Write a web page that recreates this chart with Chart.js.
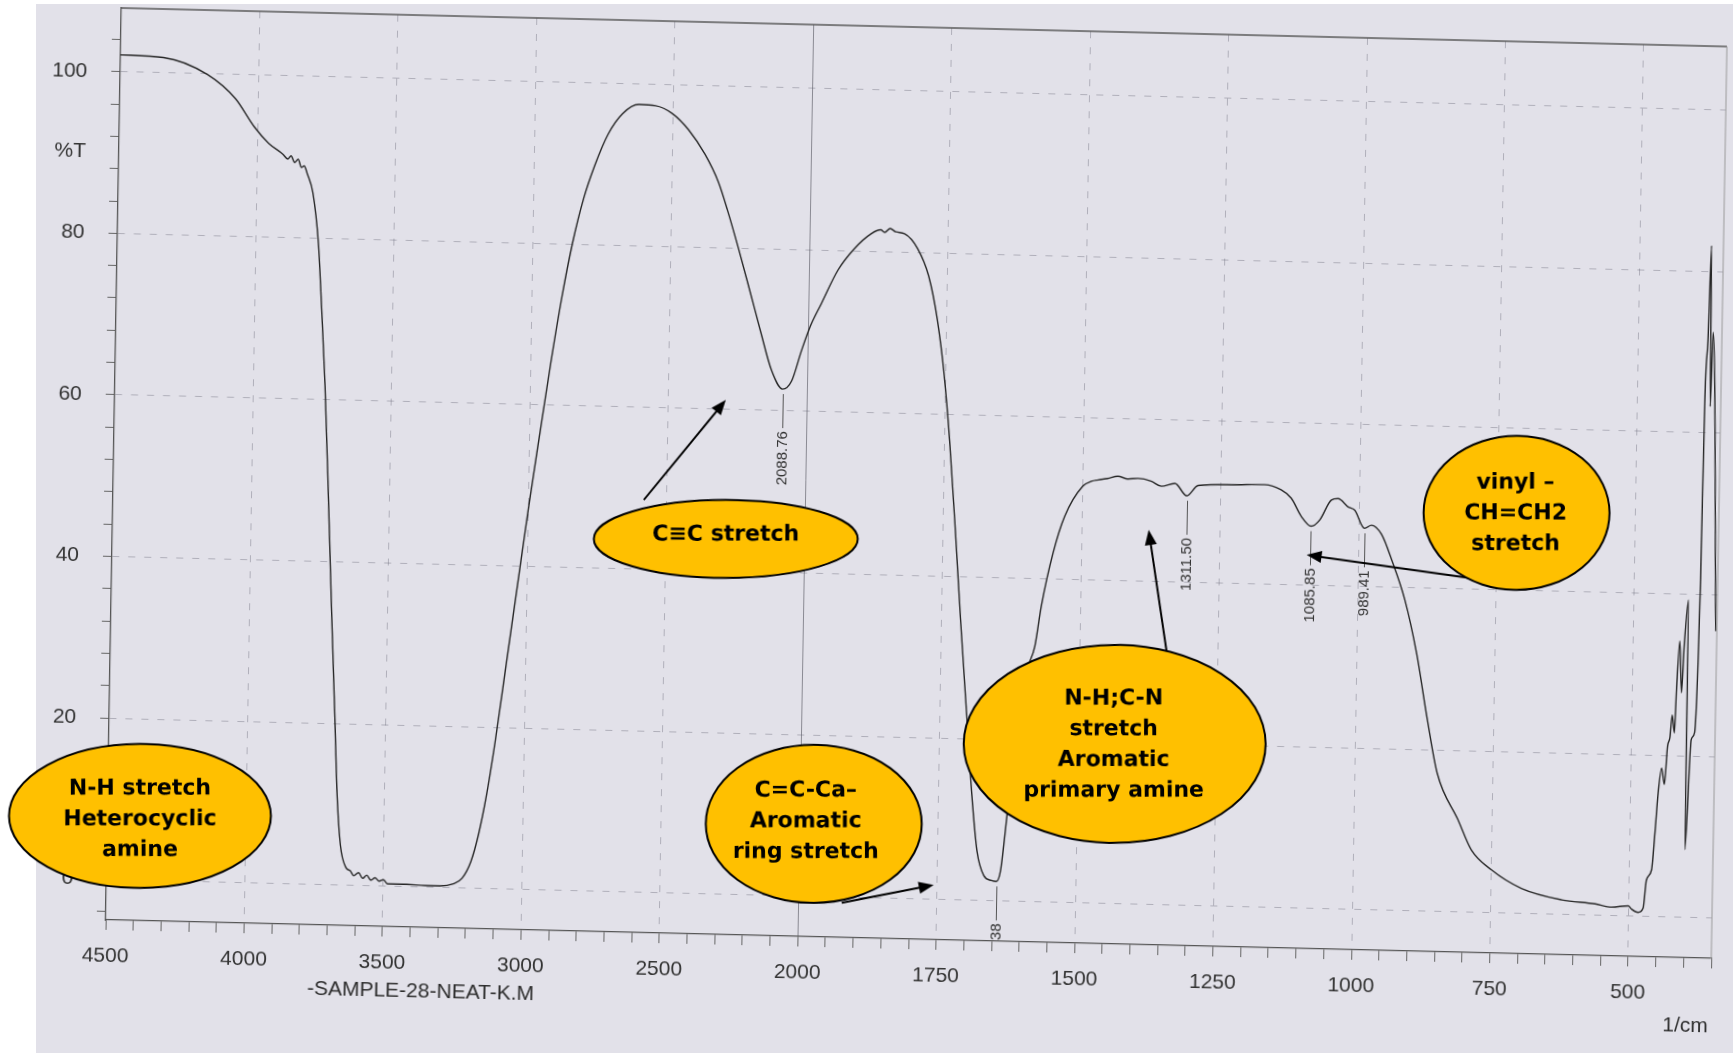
<!DOCTYPE html>
<html>
<head>
<meta charset="utf-8">
<title>IR spectrum - SAMPLE-28-NEAT-K.M</title>
<script src="https://cdn.jsdelivr.net/npm/chart.js@4.4.1/dist/chart.umd.min.js"></script>
<style>
    html, body { margin: 0; padding: 0; background: #fff; overflow: hidden; }
    #wrap { position: relative; width: 1733px; height: 1053px; overflow: hidden; background: #fff; }
    #paper { position: absolute; left: 36px; top: 4px; right: 0; bottom: 0; background: #e2e1e9; }
    /* the scanned sheet sits slightly skewed on the scanner */
    #irChart {
        position: absolute; left: 0; top: 0; display: block;
        transform-origin: 63px 961.5px;
        transform: matrix(1, 0.024, -0.0172, 1, 0, 0);
    }
</style>
</head>
<body>
<div id="wrap">
    <div id="paper"></div>
    <canvas id="irChart" width="1733" height="1053"></canvas>
</div>
<script>
// Spectrum (wavenumber in 1/cm, transmittance in %T)
const wavenumbers = [
    4500, 4345, 4184, 4082, 4013, 3960, 3908, 3890, 3878, 3865, 3852, 3840, 3830, 3818, 3797, 3774,
    3758, 3741, 3722, 3704, 3685, 3672, 3657, 3636, 3620, 3607, 3590, 3575, 3560, 3545, 3530, 3515,
    3500, 3485, 3455, 3415, 3350, 3295, 3247, 3216, 3185, 3159, 3133, 3104, 3069, 3034, 2999, 2964,
    2928, 2892, 2856, 2819, 2781, 2735, 2684, 2625, 2565, 2505, 2444, 2383, 2333, 2299, 2257, 2215,
    2172, 2130, 2088.76, 2057, 2023, 1996, 1977, 1948, 1919, 1889, 1872, 1865, 1855, 1845, 1829, 1805,
    1784, 1767, 1753, 1741, 1728, 1716, 1703, 1690, 1679, 1666, 1652, 1643, 1636, 1629, 1621, 1610,
    1596, 1581, 1570.5, 1551, 1531, 1499, 1484, 1472, 1455, 1436, 1418, 1400, 1376, 1357.5, 1333, 1311.5,
    1291, 1231, 1171, 1141, 1122.5, 1104, 1085.85, 1070.5, 1050, 1038, 1019.5, 1007.5, 989.41, 977, 958.5, 939.5,
    914.5, 891.5, 870.5, 850.5, 811.5, 786.5, 749.5, 695, 622, 561.5, 531.5, 501.5, 495.5, 483.5, 474.5, 469.5,
    460.5, 455.5, 451, 445.5, 440, 435.5, 431.5, 428, 423.5, 421, 416.5, 412, 408.5, 402, 401, 393,
    387, 383, 381, 379, 375, 371.5, 369, 366, 352
];
const transmittance = [
    102.1, 101.9, 99.9, 97.0, 93.6, 91.6, 90.3, 89.7, 90.1, 89.3, 89.7, 88.7, 88.9, 87.9, 85.6, 79.4,
    71.2, 61.7, 48.0, 34.3, 20.7, 11.1, 4.9, 2.2, 1.8, 1.2, 1.6, 0.9, 1.3, 0.7, 1.0, 0.6,
    0.8, 0.3, 0.3, 0.3, 0.2, 0.2, 0.5, 1.2, 3.3, 6.7, 11.5, 18.4, 28.0, 37.6, 47.2, 56.1,
    65.1, 73.3, 80.2, 85.7, 89.8, 93.7, 96.3, 97.5, 97.4, 96.5, 94.5, 91.5, 88.1, 84.7, 80.0, 75.0,
    69.8, 65.0, 62.7, 63.7, 67.5, 70.6, 73.4, 77.6, 80.3, 82.2, 82.7, 82.4, 82.9, 82.5, 82.3, 80.5,
    77.1, 71.7, 64.9, 56.7, 45.7, 34.8, 23.9, 13.0, 6.1, 3.1, 2.5, 2.4, 3.7, 8.3, 14.4, 21.3,
    28.2, 31.6, 36.6, 43.2, 47.8, 51.6, 52.2, 52.4, 52.6, 52.9, 52.6, 52.7, 52.4, 51.8, 52.2, 50.7,
    52.0, 52.2, 52.3, 51.7, 50.7, 48.5, 47.3, 48.1, 50.6, 50.8, 49.8, 49.4, 47.2, 47.6, 46.5, 43.4,
    38.5, 31.9, 23.9, 17.1, 11.4, 7.7, 5.3, 3.1, 1.8, 1.4, 1.05, 1.26, 0.86, 0.48, 1.03, 4.5,
    5.8, 10.4, 15.3, 18.4, 16.4, 21.1, 22.2, 25.0, 22.8, 28.2, 34.2, 27.8, 33.6, 39.3, 8.4, 22.0,
    22.9, 31.5, 41.9, 63.3, 71.6, 83.2, 63.3, 72.5, 35.5
];

// Peaks printed by the instrument
const peakWavenumbers = [2088.76, 1643, 1311.50, 1085.85, 989.41];
const peakTransmittance = [62.7, 2.4, 50.7, 47.3, 47.2];
const peakLabels = ['2088.76', '38', '1311.50', '1085.85', '989.41'];

// Axis ticks
const xTickWavenumbers = [4500, 4000, 3500, 3000, 2500, 2000, 1750, 1500, 1250, 1000, 750, 500];
const yTickValues = [0, 20, 40, 60, 80, 100];

// The paper switches to a 2x expanded scale below 2000 1/cm,
// so the chart works on a linear "paper unit" axis
function uFromWn(w) {
    return w >= 2000 ? 4500 - w : 2500 + (2000 - w) * 2;
}
function wnFromU(u) {
    return u <= 2500 ? 4500 - u : 2000 - (u - 2500) / 2;
}

const GRID = 'rgba(95, 95, 110, 0.38)';
const INK = '#262626';
const LABEL_FONT = '"Liberation Sans", Arial, sans-serif';

// Skew of the scanned sheet (same numbers as the CSS transform)
const SKEW = { ox: 63, oy: 961.5, b: 0.024, c: -0.0172 };

// Yellow callouts pasted on top of the scan (page coordinates)
const callouts = [
    { cx: 140, cy: 816, rx: 131, ry: 72, tx: 140, ty: 789, lines: ['N-H stretch', 'Heterocyclic', 'amine'] },
    { cx: 726, cy: 539, rx: 132, ry: 39, tx: 726, ty: 535, lines: ['C\u2261C stretch'] },
    { cx: 814, cy: 824, rx: 108, ry: 79, tx: 806, ty: 791, lines: ['C=C-Ca\u2013', 'Aromatic', 'ring stretch'] },
    { cx: 1115, cy: 744, rx: 151, ry: 99, tx: 1114, ty: 699, lines: ['N-H;C-N', 'stretch', 'Aromatic', 'primary amine'] },
    { cx: 1517, cy: 513, rx: 93, ry: 77, tx: 1516, ty: 483, lines: ['vinyl \u2013', 'CH=CH2', 'stretch'] }
];
const arrows = [
    { from: [644, 500], to: [726, 400] },
    { from: [842, 903], to: [934, 885] },
    { from: [1167, 652], to: [1149, 530] },
    { from: [1470, 578], to: [1307, 555] }
];

document.addEventListener('DOMContentLoaded', function() {
    initSpectrumChart();
});

// Top and right edges of the printed frame
const framePlugin = {
    id: 'frame',
    afterDraw(chart) {
        const { ctx, chartArea: a } = chart;
        ctx.save();
        ctx.strokeStyle = '#5a5a5a';
        ctx.lineWidth = 1.5;
        ctx.beginPath();
        ctx.moveTo(a.left, a.top);
        ctx.lineTo(a.right, a.top);
        ctx.stroke();
        ctx.strokeStyle = '#9a9a9a';
        ctx.lineWidth = 1;
        ctx.beginPath();
        ctx.moveTo(a.right, a.top);
        ctx.lineTo(a.right, a.bottom);
        ctx.stroke();
        ctx.restore();
    }
};

// Peak marker lines with the vertical wavenumber labels
const peakPlugin = {
    id: 'peaks',
    afterDatasetsDraw(chart) {
        const ctx = chart.ctx;
        const xs = chart.scales.x;
        const ys = chart.scales.y;
        ctx.save();
        ctx.strokeStyle = '#555';
        ctx.lineWidth = 1;
        ctx.fillStyle = '#333';
        ctx.font = '15px ' + LABEL_FONT;
        ctx.textAlign = 'right';
        ctx.textBaseline = 'middle';
        peakWavenumbers.forEach((w, i) => {
            const x = Math.round(xs.getPixelForValue(uFromWn(w))) + 0.5;
            const y = ys.getPixelForValue(peakTransmittance[i]);
            ctx.beginPath();
            ctx.moveTo(x, y + 5);
            ctx.lineTo(x, y + 39);
            ctx.stroke();
            ctx.save();
            ctx.translate(x, y + 42);
            ctx.rotate(-Math.PI / 2);
            ctx.fillText(peakLabels[i], 0, 0);
            ctx.restore();
        });
        ctx.restore();
    }
};

// Printed sample name and unit, then the hand-added arrows and callouts
const notesPlugin = {
    id: 'notes',
    afterDraw(chart) {
        const ctx = chart.ctx;
        ctx.save();
        ctx.fillStyle = '#2e2e2e';
        ctx.font = '21px ' + LABEL_FONT;
        ctx.textAlign = 'center';
        ctx.textBaseline = 'middle';
        ctx.fillText('-SAMPLE-28-NEAT-K.M', 421, 983);
        ctx.fillText('1/cm', 1686, 987);

        // undo the sheet skew so the callouts sit upright on the page
        const det = 1 - SKEW.b * SKEW.c;
        ctx.translate(SKEW.ox, SKEW.oy);
        ctx.transform(1 / det, -SKEW.b / det, -SKEW.c / det, 1 / det, 0, 0);
        ctx.translate(-SKEW.ox, -SKEW.oy);

        // arrows first, the ellipses cover their tails
        ctx.strokeStyle = '#000';
        ctx.fillStyle = '#000';
        ctx.lineWidth = 2;
        arrows.forEach(a => {
            const [x1, y1] = a.from;
            const [x2, y2] = a.to;
            const ang = Math.atan2(y2 - y1, x2 - x1);
            const head = 15;
            ctx.beginPath();
            ctx.moveTo(x1, y1);
            ctx.lineTo(x2 - Math.cos(ang) * head * 0.8, y2 - Math.sin(ang) * head * 0.8);
            ctx.stroke();
            ctx.beginPath();
            ctx.moveTo(x2, y2);
            ctx.lineTo(x2 - head * Math.cos(ang) + 6 * Math.sin(ang), y2 - head * Math.sin(ang) - 6 * Math.cos(ang));
            ctx.lineTo(x2 - head * Math.cos(ang) - 6 * Math.sin(ang), y2 - head * Math.sin(ang) + 6 * Math.cos(ang));
            ctx.closePath();
            ctx.fill();
        });

        callouts.forEach(c => {
            ctx.beginPath();
            ctx.ellipse(c.cx, c.cy, c.rx, c.ry, 0, 0, Math.PI * 2);
            ctx.fillStyle = '#ffc000';
            ctx.fill();
            ctx.lineWidth = 2;
            ctx.strokeStyle = '#000';
            ctx.stroke();
            ctx.fillStyle = '#000';
            ctx.font = 'bold 22px "DejaVu Sans", sans-serif';
            c.lines.forEach((line, i) => {
                ctx.fillText(line, c.tx, c.ty + i * 30.7);
            });
        });
        ctx.restore();
    }
};

function initSpectrumChart() {
    const ctx = document.getElementById('irChart').getContext('2d');

    const points = wavenumbers.map((w, i) => ({ x: uFromWn(w), y: transmittance[i] }));

    new Chart(ctx, {
        type: 'line',
        data: {
            datasets: [{
                label: 'SAMPLE-28-NEAT-K.M',
                data: points,
                borderColor: INK,
                borderWidth: 1.4,
                pointRadius: 0,
                cubicInterpolationMode: 'monotone',
                fill: false
            }]
        },
        options: {
            responsive: false,
            animation: false,
            layout: {
                padding: { left: 0, right: 22, top: 7, bottom: 0 }
            },
            plugins: {
                legend: { display: false },
                tooltip: { enabled: false }
            },
            scales: {
                x: {
                    type: 'linear',
                    min: 0,
                    max: 5800,
                    afterFit: scale => {
                        scale.height = 134;
                        scale.paddingLeft = 0;
                        scale.paddingRight = 0;
                    },
                    border: {
                        display: true,
                        color: '#555',
                        width: 1.3,
                        dash: c => (c.tick && c.tick.value === 2500) ? [] : [7, 9]
                    },
                    grid: {
                        color: c => {
                            const v = c.tick ? c.tick.value : -1;
                            if (v === 2500) return 'rgba(80, 80, 90, 0.6)';
                            if (v > 0 && v <= 5500 && v % 500 === 0) return GRID;
                            return 'transparent';
                        },
                        lineWidth: 1,
                        tickColor: '#666',
                        tickLength: 10
                    },
                    ticks: {
                        stepSize: 100,
                        autoSkip: false,
                        maxRotation: 0,
                        minRotation: 0,
                        padding: 14,
                        color: '#333',
                        font: { family: LABEL_FONT, size: 21 },
                        callback: value => {
                            const w = wnFromU(value);
                            return xTickWavenumbers.includes(w) ? String(w) : '';
                        }
                    }
                },
                y: {
                    min: -5.0,
                    max: 107.9,
                    afterFit: scale => {
                        scale.width = 105;
                        scale.paddingTop = 0;
                        scale.paddingBottom = 0;
                    },
                    border: {
                        display: true,
                        color: '#555',
                        width: 1.3,
                        dash: [7, 9]
                    },
                    grid: {
                        color: c => (c.tick && yTickValues.includes(c.tick.value)) ? GRID : 'transparent',
                        lineWidth: 1,
                        tickColor: c => (c.tick && c.tick.value % 4 === 0) ? '#666' : 'transparent',
                        tickLength: 9
                    },
                    ticks: {
                        stepSize: 2,
                        autoSkip: false,
                        includeBounds: false,
                        padding: 24,
                        color: '#333',
                        font: { family: LABEL_FONT, size: 21 },
                        callback: value => {
                            if (yTickValues.includes(value)) return String(value);
                            if (value === 90) return '%T';
                            return '';
                        }
                    }
                }
            }
        },
        plugins: [framePlugin, peakPlugin, notesPlugin]
    });
}
</script>
</body>
</html>
